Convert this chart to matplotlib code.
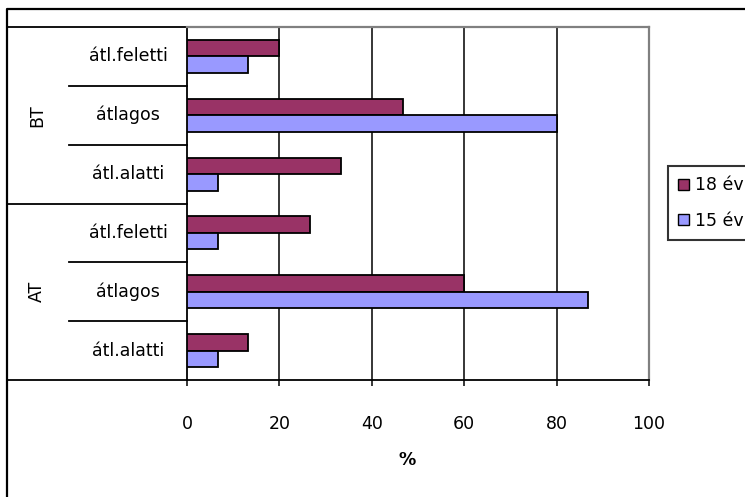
import matplotlib
matplotlib.use("Agg")
import matplotlib.pyplot as plt
from matplotlib.lines import Line2D
from matplotlib.patches import Patch
from matplotlib.transforms import blended_transform_factory

# data (bottom to top, as in the Excel category order)
groups = ["AT", "BT"]
levels = ["átl.alatti", "átlagos", "átl.feletti"]
ev18 = [13.3, 60.0, 26.7, 33.3, 46.7, 20.0]
ev15 = [6.7, 86.7, 6.7, 6.7, 80.0, 13.3]
series_names = ["18 év", "15 év"]
xticks = [0, 20, 40, 60, 80, 100]

c18 = "#993366"
c15 = "#9999FF"

plt.rcParams["font.family"] = ["DejaVu Sans"]
fs = 12.5

W, H = 745, 497
fig = plt.figure(figsize=(W / 100, H / 100), dpi=100)

# plot area in pixels
left, right, top, bottom = 187, 649, 27, 380
ax = fig.add_axes([left / W, 1 - bottom / H, (right - left) / W, (bottom - top) / H])

n = len(groups) * len(levels)
ypos = list(range(n))
bh = 0.28
ax.barh([y + bh / 2 for y in ypos], ev18, height=bh, color=c18,
        edgecolor="black", linewidth=1.3, zorder=3)
ax.barh([y - bh / 2 for y in ypos], ev15, height=bh, color=c15,
        edgecolor="black", linewidth=1.3, zorder=3)

ax.set_xlim(0, 100)
ax.set_ylim(-0.5, n - 0.5)
for g in xticks[1:-1]:
    ax.axvline(g, color="black", linewidth=1.1, zorder=1)

ax.set_yticks([])
ax.set_xticks(xticks)
ax.tick_params(axis="x", direction="out", length=4.5, width=1.1,
               labelsize=fs, pad=21)
ax.spines["left"].set_color("black")
ax.spines["bottom"].set_color("black")
ax.spines["left"].set_linewidth(1.3)
ax.spines["bottom"].set_linewidth(1.3)
for s in ("top", "right"):
    ax.spines[s].set_color("#808080")
    ax.spines[s].set_linewidth(1.6)

ax.set_xlabel("%", fontsize=fs, fontweight="bold")
ax.xaxis.set_label_coords((407 - left) / (right - left), (bottom - 451) / (bottom - top))

# multi-level category axis
tr = blended_transform_factory(fig.transFigure, ax.transData)
x_outer = 7 / W
x_inner = 69 / W
x_axis = left / W
for k in range(n + 1):
    yb = k - 0.5
    x0 = x_outer if k % len(levels) == 0 else x_inner
    ax.add_line(Line2D([x0, x_axis], [yb, yb], transform=tr, color="black",
                       linewidth=1.3, clip_on=False))
for i, y in enumerate(ypos):
    ax.text(128 / W, y, levels[i % len(levels)], transform=tr, ha="center",
            va="center", fontsize=fs)
for gi, g in enumerate(groups):
    yc = gi * len(levels) + (len(levels) - 1) / 2
    ax.text(37 / W, yc, g, transform=tr, ha="center", va="center",
            rotation=90, fontsize=fs)

# chart border (cropped at right and bottom)
fig.add_artist(Line2D([7 / W, 7 / W, 1.0], [0.0, 1 - 9 / H, 1 - 9 / H],
                      transform=fig.transFigure, color="black", linewidth=1.6))

# legend
handles = [Patch(facecolor=c18, edgecolor="black", linewidth=1.0),
           Patch(facecolor=c15, edgecolor="black", linewidth=1.0)]
leg = fig.legend(handles, series_names, loc="upper left",
                 bbox_to_anchor=(668 / W, 1 - 166 / H), fontsize=fs,
                 frameon=True, fancybox=False, edgecolor="black",
                 handlelength=0.6, handleheight=0.6, handletextpad=0.35,
                 labelspacing=1.0, borderpad=0.6, borderaxespad=0.0)
leg.get_frame().set_linewidth(1.5)

fig.savefig("out.png", dpi=100)
